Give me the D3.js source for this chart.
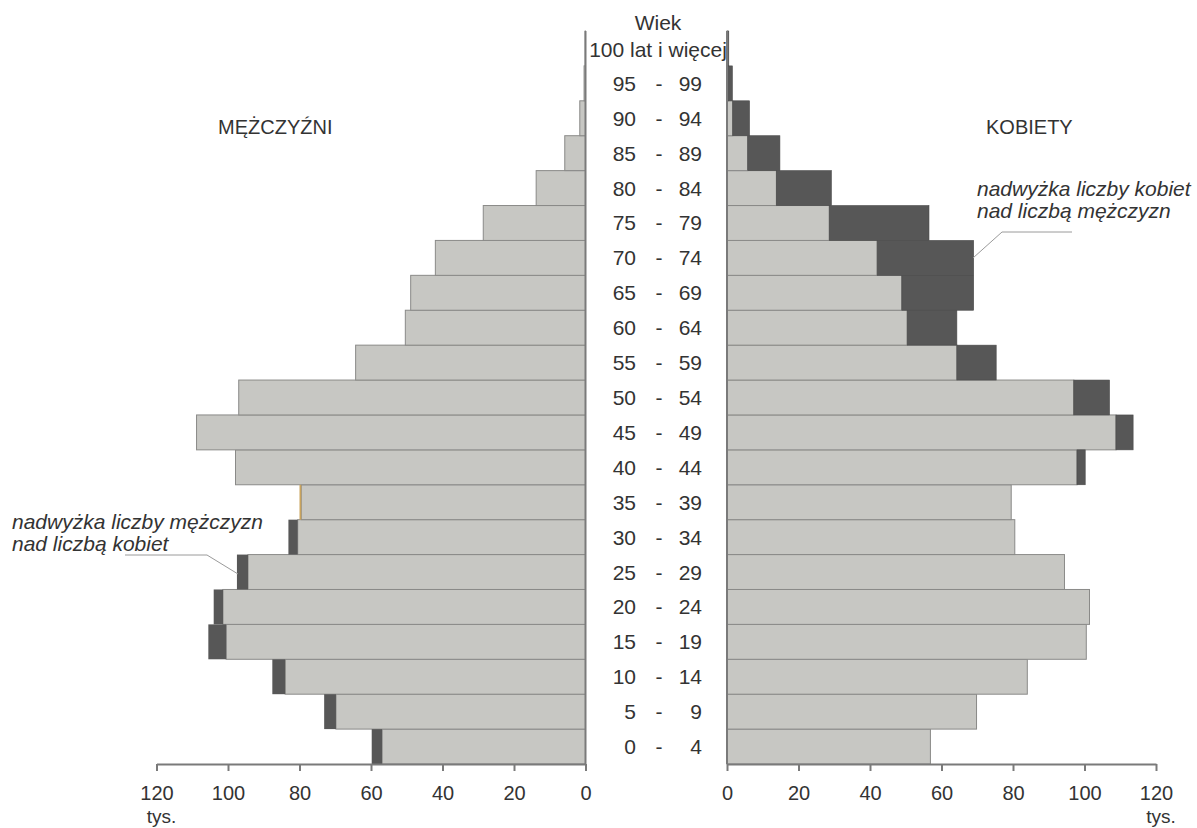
<!DOCTYPE html>
<html>
<head>
<meta charset="utf-8">
<script src="https://cdn.jsdelivr.net/npm/d3@7"></script>
<style>
  html, body { margin: 0; padding: 0; background: #fff; }
  svg { display: block; font-family: "Liberation Sans", Arial, sans-serif; }
</style>
</head>
<body>
<svg id="chart" width="1197" height="828"></svg>
<script>
// ---- data (thousands) ----
const ageStart = ["0","5","10","15","20","25","30","35","40","45","50","55","60","65","70","75","80","85","90","95","100"];
const ageEnd   = ["4","9","14","19","24","29","34","39","44","49","54","59","64","69","74","79","84","89","94","99",""];
const men   = [59.8, 73.1, 87.6, 105.5, 104.0, 97.5, 83.1, 80.0, 97.9, 108.8, 97.0, 64.3, 50.4, 48.9, 42.0, 28.6, 13.8, 5.8, 1.6, 0.4, 0.1];
const women = [56.9, 69.8, 84.0, 100.5, 101.4, 94.4, 80.5, 79.5, 100.2, 113.6, 107.0, 75.3, 64.3, 69.0, 69.0, 56.5, 29.2, 14.8, 6.3, 1.5, 0.5];
const tickValues = [0, 20, 40, 60, 80, 100, 120];
const labels = {
  age: "Wiek", top: "100 lat i więcej", men: "MĘŻCZYŹNI", women: "KOBIETY", unit: "tys.",
  menExcess: ["nadwyżka liczby mężczyzn", "nad liczbą kobiet"],
  womenExcess: ["nadwyżka liczby kobiet", "nad liczbą mężczyzn"]
};

const rows = ageStart.map((a, i) => ({ i, start: a, end: ageEnd[i], m: men[i], f: women[i], common: Math.min(men[i], women[i]) }));

const svg = d3.select("#chart");
const xL = d3.scaleLinear().domain([0, 120]).range([585.5, 156.5]);
const xR = d3.scaleLinear().domain([0, 120]).range([727, 1156]);
const y = d3.scaleBand().domain(rows.map(d => d.i)).range([764, 31]).padding(0);

const GRAY = "#c7c7c3", DARK = "#575757", EDGE = "#8a8a88", TEXT = "#333";

// common (gray) bars
svg.append("g").selectAll("rect").data(rows).join("rect")
  .attr("x", d => xL(d.common)).attr("width", d => xL(0) - xL(d.common))
  .attr("y", d => y(d.i)).attr("height", y.bandwidth())
  .attr("fill", GRAY).attr("stroke", EDGE).attr("stroke-width", 1);
svg.append("g").selectAll("rect").data(rows).join("rect")
  .attr("x", xR(0)).attr("width", d => xR(d.common) - xR(0))
  .attr("y", d => y(d.i)).attr("height", y.bandwidth())
  .attr("fill", GRAY).attr("stroke", EDGE).attr("stroke-width", 1);

// excess bars
svg.append("g").selectAll("rect").data(rows.filter(d => d.m > d.f)).join("rect")
  .attr("x", d => xL(d.m)).attr("width", d => xL(d.f) - xL(d.m))
  .attr("y", d => y(d.i)).attr("height", y.bandwidth())
  .attr("fill", d => (d.m - d.f) < 1 ? "#c9a35c" : DARK);
svg.append("g").selectAll("rect").data(rows.filter(d => d.f > d.m)).join("rect")
  .attr("x", d => xR(d.m)).attr("width", d => xR(d.f) - xR(d.m))
  .attr("y", d => y(d.i)).attr("height", y.bandwidth())
  .attr("fill", DARK).attr("stroke", "#4a4a4a").attr("stroke-width", 0.6);

// vertical zero lines
[xL(0), xR(0)].forEach(x => {
  svg.append("line").attr("x1", x).attr("x2", x).attr("y1", 31).attr("y2", 764)
    .attr("stroke", "#7a7a7a").attr("stroke-width", 2);
});

// bottom axes
function styleAxis(g) {
  g.select(".domain").attr("stroke", "#7a7a7a").attr("stroke-width", 2);
  g.selectAll(".tick line").attr("stroke", "#7a7a7a").attr("stroke-width", 2);
  g.selectAll(".tick text").attr("fill", TEXT).attr("font-size", 20)
    .attr("font-family", "Liberation Sans, Arial, sans-serif")
    .attr("y", 36).attr("dy", 0);
}
svg.append("g").attr("transform", "translate(0,764)")
  .call(d3.axisBottom(xL).tickValues(tickValues).tickSize(7).tickSizeOuter(0).tickPadding(8))
  .call(styleAxis);
svg.append("g").attr("transform", "translate(0,764)")
  .call(d3.axisBottom(xR).tickValues(tickValues).tickSize(7).tickSizeOuter(0).tickPadding(8))
  .call(styleAxis);

svg.append("text").attr("x", xL(120) + 5).attr("y", 823).attr("text-anchor", "middle")
  .attr("font-size", 19).attr("fill", TEXT).text(labels.unit);
svg.append("text").attr("x", xR(120) + 5).attr("y", 823).attr("text-anchor", "middle")
  .attr("font-size", 19).attr("fill", TEXT).text(labels.unit);

// age labels
const ageG = svg.append("g").attr("font-size", 21).attr("fill", TEXT);
rows.forEach(d => {
  const cy = y(d.i) + y.bandwidth() / 2 + 7.5;
  if (d.end === "") {
    ageG.append("text").attr("x", 658).attr("y", cy + 1).attr("text-anchor", "middle").text(labels.top);
  } else {
    ageG.append("text").attr("x", 636).attr("y", cy).attr("text-anchor", "end").text(d.start);
    ageG.append("text").attr("x", 659).attr("y", cy).attr("text-anchor", "middle").text("-");
    ageG.append("text").attr("x", 702).attr("y", cy).attr("text-anchor", "end").text(d.end);
  }
});
svg.append("text").attr("x", 658).attr("y", 30).attr("text-anchor", "middle")
  .attr("font-size", 21).attr("fill", TEXT).text(labels.age);

// side titles
svg.append("text").attr("x", 218).attr("y", 134).attr("font-size", 20).attr("fill", TEXT).text(labels.men);
svg.append("text").attr("x", 986).attr("y", 134).attr("font-size", 20).attr("fill", TEXT).text(labels.women);

// annotations
function annot(x, y0, lines) {
  lines.forEach((t, k) => {
    svg.append("text").attr("x", x).attr("y", y0 + k * 22).attr("font-size", 21)
      .attr("font-style", "italic").attr("fill", TEXT).text(t);
  });
}
annot(977, 196, labels.womenExcess);
annot(12, 529, labels.menExcess);

svg.append("polyline").attr("points", "1072,232 1002,232 973,258")
  .attr("fill", "none").attr("stroke", "#9a9a9a").attr("stroke-width", 1);
svg.append("polyline").attr("points", "125,555 207,555 238,574")
  .attr("fill", "none").attr("stroke", "#9a9a9a").attr("stroke-width", 1);
</script>
</body>
</html>
